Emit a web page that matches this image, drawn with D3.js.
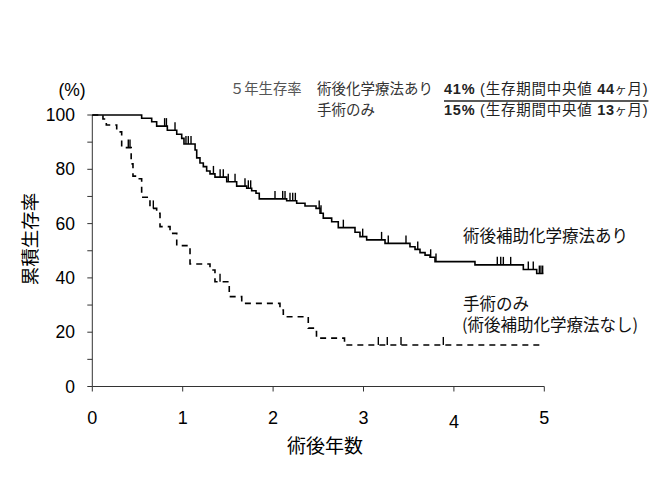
<!DOCTYPE html>
<html lang="ja">
<head>
  <meta charset="UTF-8" />
  <title>累積生存率</title>
  <script src="https://d3js.org/d3.v7.min.js"></script>
  <style>
    body { margin: 0; background: #fff; }
    svg text { font-family: "Liberation Sans", Arial, "Noto Sans CJK JP", sans-serif; }
    .jp { font-family: "Noto Sans CJK JP", sans-serif; }
  </style>
</head>
<body>
<div id="chart"></div>
<script>
// 軸の目盛
const yearTicks = [0, 1, 2, 3, 4, 5];
const pctLabels = [0, 20, 40, 60, 80, 100];
const pctMinor = [10, 30, 50, 70, 90];

// 術後補助化学療法あり（イベント時刻・生存率）
const chemoTimes = [0, 0.546, 0.657, 0.712, 0.830, 0.934, 0.989, 1.014, 1.137, 1.155, 1.191, 1.228, 1.265, 1.302, 1.357,
  1.487, 1.597, 1.708, 1.763, 1.811, 1.847, 2.150, 2.261, 2.353, 2.475, 2.519, 2.555, 2.648, 2.721, 2.906, 2.961,
  3.035, 3.238, 3.514, 3.570, 3.625, 3.681, 3.736, 3.791, 4.233, 4.768, 4.916, 4.99];
const chemoSurv = [100, 98.8, 97.5, 95.9, 94.4, 92.9, 91.4, 89.3, 87.1, 84.2, 82.3, 81.0, 79.4, 78.3, 77.1,
  75.4, 73.8, 73.0, 72.1, 71.2, 69.1, 68.4, 67.5, 66.5, 65.6, 63.8, 62.0, 60.7, 58.5, 56.8, 55.2,
  54.0, 52.7, 51.5, 50.5, 49.3, 48.4, 47.6, 46.0, 44.8, 43.1, 41.6, 41.6];
const chemoCensor = [0.80, 0.82, 0.915, 1.036, 1.062, 1.092, 1.34, 1.414, 1.449, 1.504, 1.579, 1.689, 1.726, 1.752,
  2.021, 2.106, 2.132, 2.187, 2.217, 2.246, 2.51, 2.53, 2.777, 2.991, 3.20, 3.274, 3.47, 3.60, 3.743, 3.802,
  4.48, 4.518, 4.547, 4.628, 4.823, 4.878, 4.945, 4.963, 4.982];

// 手術のみ
const surgTimes = [0, 0.118, 0.155, 0.270, 0.325, 0.430, 0.450, 0.510, 0.546, 0.638, 0.712, 0.749, 0.860, 0.934,
  1.081, 1.302, 1.357, 1.515, 1.653, 2.076, 2.113, 2.389, 2.445, 2.480, 2.790, 4.99];
const surgSurv = [100, 98.5, 96.3, 93.8, 88.0, 82.0, 77.5, 76.5, 69.7, 65.6, 63.8, 58.9, 56.4, 51.9,
  45.1, 42.9, 38.6, 33.1, 30.6, 28.2, 25.7, 21.5, 20.2, 17.8, 15.3, 15.3];
const surgCensor = [0.398, 0.417, 0.675, 1.413, 3.164, 3.263, 3.415, 3.883];

const W = 670, H = 502;
const svg = d3.select("#chart").append("svg")
  .attr("width", W).attr("height", H);

const x = d3.scaleLinear().domain([0, 5]).range([92.3, 544.3]);
const y = d3.scaleLinear().domain([0, 100]).range([386.5, 115]);

// 軸
svg.append("line")
  .attr("x1", x(0)).attr("x2", x(0)).attr("y1", y(0)).attr("y2", y(100))
  .attr("stroke", "#333").attr("stroke-width", 1);
svg.append("line")
  .attr("x1", x(0)).attr("x2", x(5)).attr("y1", y(0)).attr("y2", y(0))
  .attr("stroke", "#333").attr("stroke-width", 1);

svg.selectAll(".ytick")
  .data(pctLabels.concat(pctMinor))
  .enter().append("line")
  .attr("x1", x(0) - 5).attr("x2", x(0))
  .attr("y1", d => y(d)).attr("y2", d => y(d))
  .attr("stroke", "#333");

svg.selectAll(".ylab")
  .data(pctLabels)
  .enter().append("text")
  .attr("x", 75).attr("y", d => y(d) + 6)
  .attr("text-anchor", "end")
  .attr("font-size", 17.5)
  .text(d => d);

svg.selectAll(".xtick")
  .data(yearTicks)
  .enter().append("line")
  .attr("x1", d => x(d)).attr("x2", d => x(d))
  .attr("y1", y(0)).attr("y2", y(0) + 5)
  .attr("stroke", "#333");

svg.selectAll(".xlab")
  .data(yearTicks)
  .enter().append("text")
  .attr("x", d => x(d)).attr("y", d => d === 4 ? 428 : 423.5)
  .attr("text-anchor", "middle")
  .attr("font-size", 18)
  .text(d => d);

svg.append("text").attr("x", 72).attr("y", 96)
  .attr("text-anchor", "middle").attr("font-size", 17.5).text("(%)");

svg.append("text").attr("class", "jp")
  .attr("transform", "translate(37,239) rotate(-90)")
  .attr("text-anchor", "middle").attr("font-size", 18.5)
  .text("累積生存率");

svg.append("text").attr("class", "jp")
  .attr("x", 325).attr("y", 453)
  .attr("text-anchor", "middle").attr("font-size", 19)
  .text("術後年数");

// 生存曲線
const line = d3.line()
  .x(d => x(d[0])).y(d => y(d[1]))
  .curve(d3.curveStepAfter);

function survAt(times, surv, t) {
  const i = d3.bisectRight(times, t) - 1;
  return surv[Math.max(0, i)];
}

function drawCurve(times, surv, censor, dash) {
  svg.append("path")
    .datum(times.map((t, i) => [t, surv[i]]))
    .attr("d", line)
    .attr("fill", "none")
    .attr("stroke", "#000")
    .attr("stroke-width", 1.6)
    .attr("stroke-dasharray", dash);
  svg.selectAll(null)
    .data(censor)
    .enter().append("line")
    .attr("x1", d => x(d)).attr("x2", d => x(d))
    .attr("y1", d => y(survAt(times, surv, d)))
    .attr("y2", d => y(survAt(times, surv, d)) - 8)
    .attr("stroke", "#000")
    .attr("stroke-width", 1.4);
}

drawCurve(surgTimes, surgSurv, surgCensor, "6,5");
drawCurve(chemoTimes, chemoSurv, chemoCensor, null);

// 曲線ラベル
svg.append("text").attr("class", "jp")
  .attr("x", 463).attr("y", 241.5).attr("font-size", 16.5).attr("fill", "#111")
  .text("術後補助化学療法あり");
const surgLabel = svg.append("text").attr("class", "jp")
  .attr("y", 310).attr("font-size", 16.5).attr("fill", "#111");
surgLabel.append("tspan").attr("x", 463).text("手術のみ");
surgLabel.append("tspan").attr("x", 462).attr("dy", 21).text("(術後補助化学療法なし)");

// 5年生存率の注記
const legendRows = ["術後化学療法あり", "手術のみ"];
const legendRates = ["41%", "15%"];
const legendMedians = ["44", "13"];
const rowY = [93.5, 114.5];

svg.append("text").attr("class", "jp")
  .attr("x", 230).attr("y", rowY[0]).attr("font-size", 14.3).attr("fill", "#555")
  .text("５年生存率");

legendRows.forEach((name, i) => {
  svg.append("text").attr("class", "jp")
    .attr("x", 317).attr("y", rowY[i]).attr("font-size", 14.5).attr("fill", "#333")
    .text(name);
  const t = svg.append("text")
    .attr("x", 444).attr("y", rowY[i]).attr("font-size", 14.5).attr("fill", "#222")
    .attr("letter-spacing", 0.75);
  t.append("tspan").attr("font-weight", "bold").text(legendRates[i]);
  t.append("tspan").text(" (");
  t.append("tspan").attr("class", "jp").text("生存期間中央値");
  t.append("tspan").attr("font-weight", "bold").text(" " + legendMedians[i]);
  t.append("tspan").attr("class", "jp").attr("font-size", 12).text("ヶ");
  t.append("tspan").attr("class", "jp").text("月");
  t.append("tspan").text(")");
  if (i === 0) {
    const bb = t.node().getBBox();
    svg.append("line")
      .attr("x1", bb.x).attr("x2", bb.x + bb.width)
      .attr("y1", rowY[i] + 7.5).attr("y2", rowY[i] + 7.5)
      .attr("stroke", "#222").attr("stroke-width", 1.3);
  }
});
</script>
</body>
</html>
